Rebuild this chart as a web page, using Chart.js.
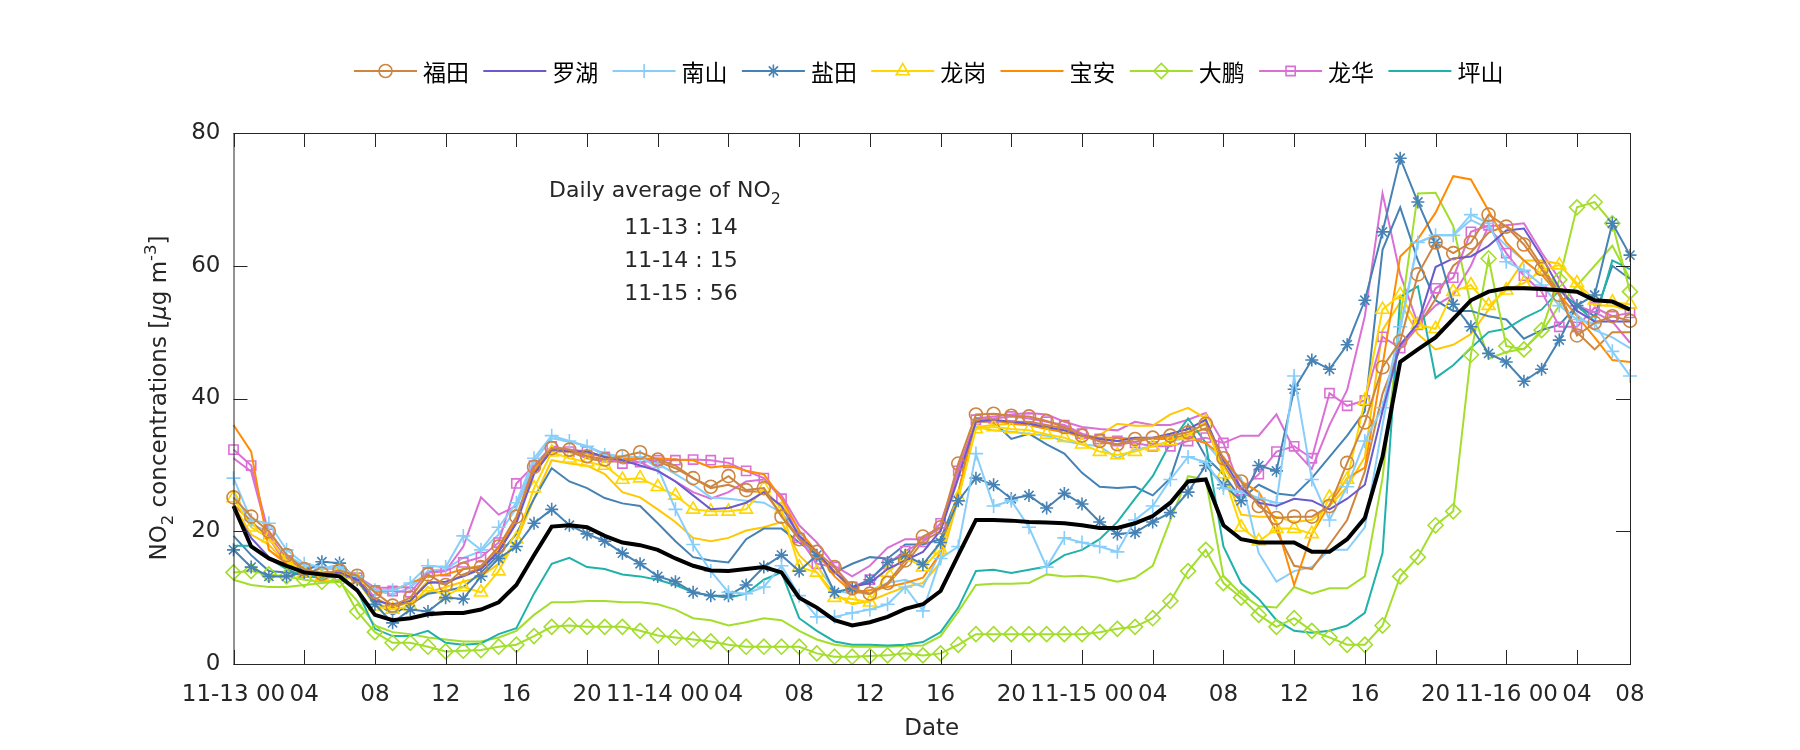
<!DOCTYPE html>
<html>
<head>
<meta charset="utf-8">
<script src="https://cdn.jsdelivr.net/npm/chart.js@4.4.1/dist/chart.umd.min.js"></script>
<style>
  html, body { margin: 0; padding: 0; background: #ffffff; }
  #wrap { width: 1800px; height: 750px; }
</style>
</head>
<body>
<div id="wrap"><canvas id="no2Chart" width="1800" height="750"></canvas></div>
<script>
// hourly index from 11-13 00, ticks every 4 h (last one sits on the axis end)
const tickHours = [0, 4, 8, 12, 16, 20, 24, 28, 32, 36, 40, 44, 48, 52, 56, 60, 64, 68, 72, 76, 79];
const tickLabels = ["11-13 00", "04", "08", "12", "16", "20", "11-14 00", "04", "08", "12", "16", "20",
  "11-15 00", "04", "08", "12", "16", "20", "11-16 00", "04", "08"];
const yTicks = [0, 20, 40, 60, 80];

const stations = ["福田", "罗湖", "南山", "盐田", "龙岗", "宝安", "大鹏", "龙华", "坪山"];
const dailyAvg = ["11-13 : 14", "11-14 : 15", "11-15 : 56"];

// station series (with markers in legend)
const futian = [25.1, 22.2, 20, 16.4, 14.3, 13.6, 14.1, 13.3, 10.8, 8.8,
  10, 13.5, 11.9, 14.3, 14.6, 17.7, 22.2, 29.7, 32.5, 32.3,
  31.3, 30.8, 31.3, 31.9, 30.8, 29.9, 28, 26.7, 28.3, 26.2,
  26.5, 22.2, 18.8, 16.9, 14.6, 11.4, 10.6, 12.2, 15.6, 19.2,
  20.6, 30.2, 37.6, 37.7, 37.4, 37.3, 36.6, 35.7, 34.4, 33.6,
  33.1, 33.9, 34.1, 34.4, 34.9, 36.2, 31, 27.5, 23.8, 22,
  22.2, 22.2, 23.8, 30.3, 36.4, 44.7, 48.6, 58.7, 63.5, 61.9,
  63.5, 67.7, 65.9, 63.2, 59.5, 55.6, 49.5, 51.4, 52.4, 51.7];
const luohu = [23.3, 19, 16.1, 14.8, 13.8, 13.5, 13.8, 12.7, 9.5, 9,
  9.5, 12.2, 12.4, 13.2, 14.3, 16.9, 21.2, 28.6, 32.3, 32,
  32, 31.2, 30.7, 29.9, 29.1, 27.5, 25.4, 23.3, 23.5, 24.3,
  25.9, 23.8, 19.3, 16.9, 13.8, 11.6, 12.2, 14.3, 15.6, 16.9,
  20.1, 28, 36.5, 36.8, 36.5, 36.2, 35.7, 35.2, 34.4, 33.9,
  33.6, 34.1, 34.1, 34.7, 35.4, 36.8, 30.7, 26.5, 24.3, 23.8,
  24.9, 24.6, 23.3, 24.9, 27, 38.1, 48.1, 51.3, 59.8, 61.1,
  61.4, 63, 65.3, 65.6, 61.4, 56.6, 53.2, 51.6, 51.6, 51.6];
const nanshan = [28, 21.7, 21.2, 17.2, 15.1, 14.6, 14.6, 13.2, 11.1, 11.1,
  12.2, 14.8, 14.6, 19.3, 17.2, 20.6, 24.3, 31, 34.4, 33.6,
  32.8, 31.5, 31.2, 31.2, 29.6, 23.3, 18, 14, 10.8, 10.6,
  11.6, 14.8, 10.3, 7.1, 7.1, 7.7, 8.2, 9, 11.6, 8,
  15.9, 17.7, 31.7, 23.8, 24.6, 20.6, 14.6, 19, 18.3, 17.7,
  16.9, 21.7, 23.8, 27.8, 31.2, 30.4, 26.5, 25.9, 25, 24.3,
  43.4, 27.8, 21.7, 26.7, 33.6, 38.6, 50.8, 63.5, 64.6, 64.6,
  67.7, 66.4, 60.6, 59.3, 57.1, 54, 51.9, 51.3, 47.1, 43.4];
const yantian = [17.2, 14.6, 13.2, 13.2, 13.8, 15.4, 15.2, 12.7, 9, 6.2,
  8.2, 7.9, 10, 9.8, 13.2, 15.9, 17.7, 21.2, 23.3, 20.9,
  19.6, 18.5, 16.7, 15.1, 13.2, 12.4, 10.8, 10.3, 10.3, 11.9,
  14.6, 16.4, 14, 16.4, 10.8, 11.4, 12.7, 15.3, 16.4, 15,
  18.3, 24.6, 28, 27, 24.9, 25.4, 23.5, 25.7, 24.1, 21.4,
  19.6, 19.8, 21.4, 22.8, 25.9, 29.9, 27, 24.6, 29.9, 29.1,
  41.4, 45.8, 44.4, 48.1, 54.8, 65.1, 76.2, 69.6, 63.5, 54.2,
  50.8, 46.8, 45.5, 42.6, 44.4, 48.8, 54, 55.6, 66.4, 61.6];
const longgang = [25, 20.6, 19, 15.6, 13.8, 13.2, 14, 12.7, 8.7, 8.2,
  8.7, 11.6, 10.3, 11.6, 10.8, 14, 18.8, 26.5, 31.9, 31,
  30.4, 29.9, 27.8, 28, 26.7, 25.4, 23.3, 23, 23, 23.3,
  26.5, 23.3, 14.6, 13.8, 10, 9.8, 9.3, 13.8, 16.1, 14.6,
  17.2, 25.1, 35.4, 35.7, 35.4, 35.2, 34.6, 34.1, 33.1, 32,
  31.5, 32, 32.8, 33.6, 34.4, 36.5, 28.6, 20.6, 18.5, 20.4,
  20.4, 19.6, 25.1, 27.8, 39.7, 53.4, 55.6, 51.1, 50.5, 56.1,
  57.1, 54, 56.3, 57.4, 59.3, 60.1, 57.4, 54.8, 54.5, 54.2];
const baoan = [36, 32, 17.2, 15.1, 13.8, 13.8, 13.8, 13.2, 10.8, 11.1,
  12.2, 13.2, 13.5, 14.3, 14.8, 17.5, 21.7, 29.1, 32.3, 32,
  31.7, 31.2, 30.9, 30.9, 31, 30.8, 30.7, 29.6, 29.9, 29.1,
  28.6, 24.9, 20.1, 16.9, 13.2, 10.8, 11.1, 11.6, 12.2, 13,
  16.7, 25.9, 36.8, 36.8, 36.2, 36, 35.4, 34.9, 34.4, 34.1,
  34.1, 33.9, 33.9, 33.9, 34.1, 33.3, 31.2, 27.5, 25.9, 21.2,
  11.9, 19.6, 24, 28, 29.6, 45, 61.4, 64, 68, 73.5,
  73, 68.3, 63.5, 60.8, 58.7, 55.6, 52.4, 49.2, 45.8, 45.5];
const dapeng = [13.8, 14, 13.5, 13.2, 12.7, 12.4, 12.7, 7.9, 4.8, 3.2,
  3.2, 2.6, 1.9, 2, 2.1, 2.6, 2.9, 4.2, 5.6, 5.8,
  5.6, 5.6, 5.6, 5, 4.3, 4, 3.7, 3.4, 2.9, 2.6,
  2.6, 2.6, 2.6, 1.6, 1.1, 1.1, 1.2, 1.3, 1.6, 1.3,
  1.6, 2.9, 4.5, 4.5, 4.5, 4.5, 4.5, 4.5, 4.5, 4.8,
  5.3, 5.6, 6.9, 9.5, 14, 17.2, 12.2, 10, 7.4, 5.6,
  6.9, 5, 4, 2.9, 2.9, 5.8, 13.2, 16.1, 20.9, 23,
  46.6, 61.1, 47.9, 47.4, 50.3, 57.9, 68.8, 69.6, 66.4, 56.1];
const longhua = [32.3, 29.9, 19.6, 15.6, 13.8, 13.2, 13.2, 13, 11.1, 11,
  10.8, 13.8, 14, 15.3, 16.1, 18.3, 27.2, 29.9, 32.8, 32,
  32, 31.2, 30.2, 30.4, 30.7, 30.7, 30.8, 30.7, 30.3, 29.1,
  28, 24.9, 19, 15.1, 14.6, 11.6, 12.7, 15.1, 17, 18.4,
  21.2, 29.1, 36.8, 37, 37.3, 37, 36.5, 36, 34.7, 33.9,
  33.6, 33.3, 32.8, 32.8, 33.6, 34.1, 33.3, 26.2, 28.6, 32,
  32.8, 31, 40.8, 38.9, 39.7, 49.3, 47.6, 51.1, 56.6, 58.2,
  65.1, 66.1, 61.9, 58.5, 56.1, 50.8, 50.8, 53.7, 52.4, 52.9];
const pingshan = [17.8, 17.8, 15.9, 14.3, 13.2, 13, 13.2, 11.1, 5.3, 4.2,
  4.2, 5, 3.2, 2.9, 3.1, 4.5, 5.4, 10.6, 15.1, 16,
  14.6, 14.3, 13.5, 13.2, 12.7, 11.9, 10.8, 10.3, 10, 10.6,
  12.7, 13.8, 6.9, 5, 3.4, 2.9, 2.9, 2.8, 2.9, 3.3,
  4.8, 8.5, 14, 14.2, 13.7, 14.2, 14.7, 16.4, 17.2, 18.8,
  21.4, 24.9, 28.3, 33.3, 37, 33.3, 17.7, 12.2, 9.8, 6.6,
  5, 4.7, 5, 5.8, 7.7, 16.7, 55.3, 56.9, 43.1, 45,
  47.6, 50, 50.5, 52.1, 53.4, 56.3, 54, 51.6, 60.8, 59.5];

// second monitoring site of some districts (plain lines, not in legend)
const futian2 = [24, 21.5, 19, 16, 14, 13.5, 13.8, 13, 10, 8.5,
  9.5, 12.5, 12, 13.5, 14.5, 17, 21.5, 29, 32, 32,
  31, 30.5, 30.5, 31, 30.5, 29.5, 28, 26.5, 27, 26,
  26, 22.5, 19, 16.5, 14, 11, 10.5, 12, 15, 18.5,
  20, 29.5, 36.5, 36.5, 36.5, 36.5, 36, 35.5, 34.5, 33.5,
  33, 33.5, 34, 34, 34.5, 35.5, 30, 26, 24.5, 20,
  14.8, 14.3, 18, 21.7, 29, 40.7, 47.6, 50.8, 55, 60,
  62, 65, 66, 64, 60, 56, 50, 47.4, 50, 50];
const nanshan2 = [26, 21, 20, 16.5, 14.8, 14.3, 14.3, 13, 11, 10.5,
  11.5, 14, 14.3, 16, 17, 19.5, 23.5, 30.5, 34, 33.5,
  32.8, 31.7, 31.2, 30.9, 30.2, 28.6, 27, 25.1, 24.9, 24.6,
  24.3, 22.8, 19.8, 14.8, 11.1, 10.6, 11.1, 12.2, 12.7, 11.6,
  16.9, 25.9, 35.7, 35.2, 35, 34.7, 34.4, 33.6, 33.1, 32.8,
  31, 32.3, 32.8, 33.6, 34.1, 33.3, 30.2, 28, 16.7, 12.4,
  14, 14.6, 17.2, 17.2, 20.6, 36, 50.3, 63.5, 64.6, 64.6,
  66.9, 65.6, 63, 60.8, 58.7, 55.6, 52.6, 50.3, 49.2, 47.6];
const yantian2 = [19.3, 16.4, 14, 13.8, 13.5, 14.5, 14.8, 12.4, 9.5, 7.4,
  9, 10.6, 11, 11.6, 13.8, 16.4, 19.6, 24.9, 29.5, 27.5,
  26.5, 25, 24.2, 23.8, 21.2, 18.5, 16.1, 15.6, 15.3, 18.8,
  20.4, 20.4, 18.3, 16.4, 13.8, 15.1, 16.1, 15.9, 18, 18,
  18.8, 25.5, 37, 36.5, 33.9, 34.7, 33.1, 31.7, 28.8, 26.7,
  26.5, 26.7, 25.4, 28, 36, 31.2, 28.6, 24.9, 27, 25.7,
  25.4, 28, 31.2, 34.4, 38.1, 62.4, 68.8, 60.8, 54.8, 53.2,
  53.2, 52.4, 51.9, 49, 50.3, 51.1, 54, 52.4, 60, 58];
const longgang2 = [24, 19.5, 18, 15, 13.5, 13, 13.5, 12.5, 9, 8.5,
  9.3, 10.8, 11.6, 12.4, 13.2, 15.1, 18.5, 24.9, 30.7, 30.2,
  29.9, 28.6, 25.9, 25.1, 23.3, 21.4, 19, 18.5, 19, 20.1,
  20.6, 21.4, 16.4, 13.8, 10.6, 9, 9.5, 10.6, 11.6, 12.2,
  15.3, 24.9, 35.7, 36, 36.2, 36, 35.5, 35.2, 33.9, 34.5,
  36.2, 35.9, 35.9, 37.6, 38.6, 37, 29.1, 22.5, 22.2, 22.2,
  21.4, 21.7, 23.8, 26.7, 31.2, 50.3, 54.5, 49.7, 47.4, 48.1,
  49.7, 53.4, 56.8, 60.8, 60.8, 60.3, 57.1, 54, 54, 53.2];
const dapeng2 = [12.7, 11.9, 11.6, 11.6, 11.9, 12.2, 12.4, 9.5, 5.8, 4.8,
  4.5, 4, 3.7, 3.4, 3.4, 4, 5, 7.4, 9.3, 9.3,
  9.5, 9.5, 9.3, 9.3, 9, 8.2, 6.9, 6.6, 5.8, 6.3,
  6.9, 6.6, 5, 3.7, 2.9, 2.6, 2.6, 2.6, 2.7, 2.8,
  4.2, 7.9, 11.9, 12.1, 12.1, 12.2, 13.5, 13.2, 13.3, 13,
  12.4, 13, 14.8, 21.7, 28.3, 27.8, 13.2, 10.6, 8.7, 8.5,
  11.6, 10.6, 11.4, 11.4, 13.2, 28, 52, 70.9, 71, 66,
  54, 46, 47, 47.5, 50, 54, 57, 60, 63, 58];
const longhua2 = [31, 29, 19, 15, 13.8, 13.2, 13.5, 13.2, 11.5, 11.5,
  11.6, 13.8, 14, 17.7, 25.1, 22.5, 23.8, 29.6, 32.8, 32.3,
  32, 31.2, 30.9, 30.4, 29.1, 27.5, 25.9, 24.9, 25.9, 27.5,
  27.8, 25.4, 20.9, 18.3, 14.8, 13.2, 14.8, 17.5, 18.8, 18.8,
  20.5, 28.5, 37, 37.3, 37.6, 37.8, 37.6, 36.5, 35.7, 35.4,
  35.2, 36.5, 36, 36, 36.8, 37.8, 33.3, 34.4, 34.4, 37.6,
  32.3, 29.4, 36, 41.3, 52.4, 70.9, 58.7, 51.3, 54, 55.6,
  60, 66, 66.1, 66.4, 62, 58, 54, 53, 51.6, 48.4];

// city average (thick black)
const cityAvg = [23.8, 17.7, 15.9, 14.8, 13.8, 13.5, 13.2, 11.1, 7.4, 6.6,
  6.9, 7.5, 7.7, 7.7, 8.2, 9.3, 11.9, 16.4, 20.7, 20.9,
  20.6, 19.3, 18.3, 17.9, 17.2, 15.9, 14.8, 14.1, 14, 14.3,
  14.6, 13.8, 10, 8.5, 6.6, 5.8, 6.3, 7.1, 8.3, 9,
  11, 16.4, 21.7, 21.7, 21.6, 21.4, 21.3, 21.2, 20.9, 20.5,
  20.5, 21.2, 22.3, 24.3, 27.5, 27.8, 20.9, 18.8, 18.3, 18.3,
  18.3, 16.9, 16.9, 18.8, 22, 31.2, 45.5, 47.4, 49.2, 52,
  54.8, 56.1, 56.6, 56.6, 56.5, 56.3, 56.1, 54.8, 54.6, 53.4];

const axisColor = "#262626";
const sans = "'DejaVu Sans', 'Liberation Sans', sans-serif";

// look of each station, in legend order
const looks = [
  { color: "#CD853F", pointStyle: "circle", radius: 6.5 },
  { color: "#6A5ACD", pointStyle: null, radius: 0 },
  { color: "#87CEFA", pointStyle: "cross", radius: 7 },
  { color: "#4682B4", pointStyle: "star", radius: 6.5 },
  { color: "#FFD700", pointStyle: "triangle", radius: 7.5 },
  { color: "#FF8C00", pointStyle: null, radius: 0 },
  { color: "#A3DE2C", pointStyle: "rectRot", radius: 7.5 },
  { color: "#DA70D6", pointStyle: "rect", radius: 6.5 },
  { color: "#20B2AA", pointStyle: null, radius: 0 }
];

function lineSet(label, values, look, order, width) {
  return {
    label: label,
    data: values.map((v, i) => ({ x: i, y: v })),
    borderColor: look.color,
    backgroundColor: look.color,
    borderWidth: width || 2,
    pointStyle: look.pointStyle || "circle",
    pointRadius: look.pointStyle ? look.radius : 0,
    pointHoverRadius: 0,
    pointBorderColor: look.color,
    pointBackgroundColor: "rgba(0,0,0,0)",
    pointBorderWidth: 1.6,
    tension: 0,
    clip: false,
    order: order
  };
}

const plain = (i) => ({ color: looks[i].color, pointStyle: null, radius: 0 });
const stationValues = [futian, luohu, nanshan, yantian, longgang, baoan, dapeng, longhua, pingshan];

const datasets = [lineSet("平均", cityAvg, { color: "#000000", pointStyle: null }, 0, 4)];
stationValues.forEach((vals, i) => datasets.push(lineSet(stations[i], vals, looks[i], 1)));
datasets.push(lineSet("福田2", futian2, plain(0), 2));
datasets.push(lineSet("南山2", nanshan2, plain(2), 2));
datasets.push(lineSet("盐田2", yantian2, plain(3), 2));
datasets.push(lineSet("龙岗2", longgang2, { color: "#FFC800", pointStyle: null }, 2));
datasets.push(lineSet("大鹏2", dapeng2, plain(6), 2));
datasets.push(lineSet("龙华2", longhua2, plain(7), 2));

// box round the axes with inward ticks, MATLAB style
const axesBox = {
  id: "axesBox",
  afterDraw(chart) {
    const { ctx, chartArea: a, scales } = chart;
    const len = 14;
    ctx.save();
    ctx.strokeStyle = axisColor;
    ctx.lineWidth = 1;
    ctx.strokeRect(a.left + 0.5, a.top + 0.5, a.right - a.left, a.bottom - a.top);
    ctx.beginPath();
    scales.x.ticks.forEach((t) => {
      const x = Math.round(scales.x.getPixelForValue(t.value)) + 0.5;
      ctx.moveTo(x, a.bottom); ctx.lineTo(x, a.bottom - len);
      ctx.moveTo(x, a.top); ctx.lineTo(x, a.top + len);
    });
    scales.y.ticks.forEach((t) => {
      const y = Math.round(scales.y.getPixelForValue(t.value)) + 0.5;
      ctx.moveTo(a.left, y); ctx.lineTo(a.left + len, y);
      ctx.moveTo(a.right, y); ctx.lineTo(a.right - len, y);
    });
    ctx.stroke();
    ctx.restore();
  }
};

// text with sub/superscripts: parts = [text, kind] kind: "", "sub", "sup", "it"
function richWidth(ctx, parts, size) {
  let w = 0;
  parts.forEach(([t, k]) => {
    const s = (k === "sub" || k === "sup") ? size * 0.72 : size;
    ctx.font = (k === "it" ? "italic " : "") + s + "px " + sans;
    w += ctx.measureText(t).width;
  });
  return w;
}
function drawRich(ctx, parts, x, y, size) {
  let cx = x;
  parts.forEach(([t, k]) => {
    const s = (k === "sub" || k === "sup") ? size * 0.72 : size;
    const dy = k === "sub" ? size * 0.32 : (k === "sup" ? -size * 0.42 : 0);
    ctx.font = (k === "it" ? "italic " : "") + s + "px " + sans;
    ctx.fillText(t, cx, y + dy);
    cx += ctx.measureText(t).width;
  });
}

const extraText = {
  id: "extraText",
  afterDraw(chart) {
    const ctx = chart.ctx;
    ctx.save();
    ctx.fillStyle = axisColor;
    ctx.textAlign = "left";
    ctx.textBaseline = "alphabetic";

    // y axis title
    const yParts = [["NO", ""], ["2", "sub"], [" concentrations [", ""], ["\u03bc", "it"], ["g m", ""], ["-3", "sup"], ["]", ""]];
    const yw = richWidth(ctx, yParts, 23);
    ctx.translate(166, 398);
    ctx.rotate(-Math.PI / 2);
    drawRich(ctx, yParts, -yw / 2, 0, 23);
    ctx.setTransform(1, 0, 0, 1, 0, 0);

    // daily average note
    const head = [["Daily average of NO", ""], ["2", "sub"]];
    const hw = richWidth(ctx, head, 22);
    drawRich(ctx, head, 665 - hw / 2, 197, 22);
    ctx.font = "22px " + sans;
    ctx.textAlign = "center";
    dailyAvg.forEach((line, k) => ctx.fillText(line, 681, 234 + k * 33));

    // legend row
    ctx.textAlign = "left";
    ctx.textBaseline = "middle";
    stations.forEach((name, k) => {
      const look = looks[k];
      const x0 = 354 + k * 129.3;
      const y0 = 71;
      ctx.strokeStyle = look.color;
      ctx.lineWidth = 2;
      ctx.beginPath();
      ctx.moveTo(x0, y0); ctx.lineTo(x0 + 63, y0);
      ctx.stroke();
      if (look.pointStyle && Chart.helpers && Chart.helpers.drawPoint) {
        ctx.fillStyle = "rgba(0,0,0,0)";
        ctx.lineWidth = 1.6;
        Chart.helpers.drawPoint(ctx, { pointStyle: look.pointStyle, radius: look.radius, rotation: 0, borderWidth: 1.6 }, x0 + 31.5, y0);
      }
      ctx.fillStyle = "#000000";
      ctx.font = "23px 'Noto Sans CJK SC', sans-serif";
      ctx.fillText(name, x0 + 69, y0 + 1);
    });
    ctx.restore();
  }
};

Chart.defaults.font.family = sans;
Chart.defaults.color = axisColor;

new Chart(document.getElementById("no2Chart").getContext("2d"), {
  type: "line",
  data: { datasets: datasets },
  options: {
    responsive: false,
    devicePixelRatio: 1,
    animation: false,
    events: [],
    layout: { padding: { left: 173.5, right: 170, top: 133, bottom: 6.8 } },
    plugins: {
      legend: { display: false },
      tooltip: { enabled: false }
    },
    scales: {
      x: {
        type: "linear",
        min: 0,
        max: 79,
        afterBuildTicks: (axis) => { axis.ticks = tickHours.map((v) => ({ value: v })); },
        afterFit: (axis) => { axis.height = 79.2; },
        grid: { display: false, drawTicks: false },
        border: { display: false },
        ticks: {
          autoSkip: false,
          maxRotation: 0,
          minRotation: 0,
          padding: 17,
          font: { size: 23 },
          color: axisColor,
          callback: (value) => tickLabels[tickHours.indexOf(value)]
        },
        title: { display: true, text: "Date", font: { size: 23 }, color: axisColor, padding: { top: 0, bottom: 0 } }
      },
      y: {
        min: 0,
        max: 80,
        afterBuildTicks: (axis) => { axis.ticks = yTicks.map((v) => ({ value: v })); },
        afterFit: (axis) => { axis.width = 60; },
        grid: { display: false, drawTicks: false },
        border: { display: false },
        ticks: { padding: 13, font: { size: 23 }, color: axisColor }
      }
    }
  },
  plugins: [axesBox, extraText]
});
</script>
</body>
</html>
